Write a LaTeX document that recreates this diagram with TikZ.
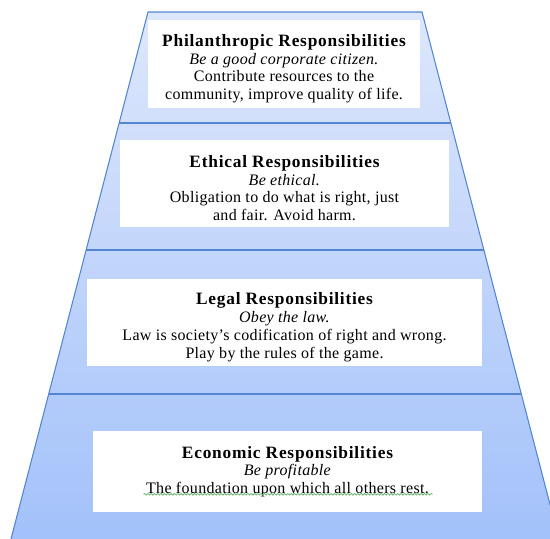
\documentclass[tikz,border=0pt]{standalone}
\usepackage{fontspec}
\setmainfont{Liberation Serif}[LetterSpace=2]
\usetikzlibrary{calc,positioning,decorations.pathmorphing}

\definecolor{pyrtop}{RGB}{221,231,252}
\definecolor{pyrbot}{RGB}{163,193,250}
\definecolor{pyrline}{RGB}{84,134,208}
\definecolor{spellgreen}{RGB}{110,180,110}

\newcommand{\leveltitle}[1]{{\fontsize{13}{13.3}\selectfont\addfontfeatures{LetterSpace=4.5}\bfseries #1}}
\newcommand{\lift}{\rule{0pt}{16pt}}

\begin{document}
\begin{tikzpicture}[x=0.75pt,y=0.75pt,yscale=-1,xscale=1,
  band/.style = {draw=pyrline, line width=0.8pt},
  card/.style = {fill=white, inner sep=0pt, align=center,
    font=\fontsize{12}{13.3}\selectfont}]
  \useasboundingbox (0,0) rectangle (550,539);
  \coordinate (topL) at (148,12);
  \coordinate (topR) at (422,12);
  \coordinate (baseL) at (11,539);
  \coordinate (baseR) at (559,539);
  \begin{scope}
    \clip (0,0) rectangle (550,539);
    \begin{scope}
      \clip (topL) -- (topR) -- (baseR) -- (baseL) -- cycle;
      \foreach \i in {0,...,52} {
        \pgfmathsetmacro\p{100-\i*100/52}
        \fill[pyrtop!\p!pyrbot] (0,12+10*\i) rectangle (560,22.5+10*\i);
      }
    \end{scope}
    \draw[band] (baseL) -- (topL) -- (topR) -- (baseR);
  \end{scope}
  % dividing lines between the levels
  \foreach \t/\n in {0.2106/one, 0.4516/two, 0.7249/three} {
    \coordinate (cut\n L) at ($(topL)!\t!(baseL)$);
    \coordinate (cut\n R) at ($(topR)!\t!(baseR)$);
    \draw[band] (cut\n L) -- (cut\n R);
  }

  \node[card, minimum width=204pt, minimum height=66pt] (phil) at (284,64)
    {\lift\leveltitle{Philanthropic Responsibilities}\\
     \textit{Be a good corporate citizen.}\\
     Contribute resources to the\\
     community, improve quality of life.};
  \node[card, minimum width=246.75pt, minimum height=65.25pt] (eth) at (284.5,183.5)
    {\lift\leveltitle{Ethical Responsibilities}\\
     \textit{Be ethical.}\\
     Obligation to do what is right, just\\
     and fair. Avoid harm.};
  \node[card, minimum width=296.25pt, minimum height=65.25pt] (legal) at (284.5,322.5)
    {\lift\leveltitle{Legal Responsibilities}\\
     \textit{Obey the law.}\\
     Law is society’s codification of right and wrong.\\
     Play by the rules of the game.};
  \node[card, minimum width=291.75pt, minimum height=60.75pt] (econ) at (287.5,471.5)
    {\leveltitle{Economic Responsibilities}\\
     \textit{Be profitable}\\
     The foundation upon which all others rest.};
  \draw[spellgreen, line width=0.6pt, decorate,
    decoration={snake, amplitude=0.6pt, segment length=2.5pt}]
    ($(econ.south)+(-144,-18)$) -- ($(econ.south)+(145,-18)$);
\end{tikzpicture}
\end{document}
